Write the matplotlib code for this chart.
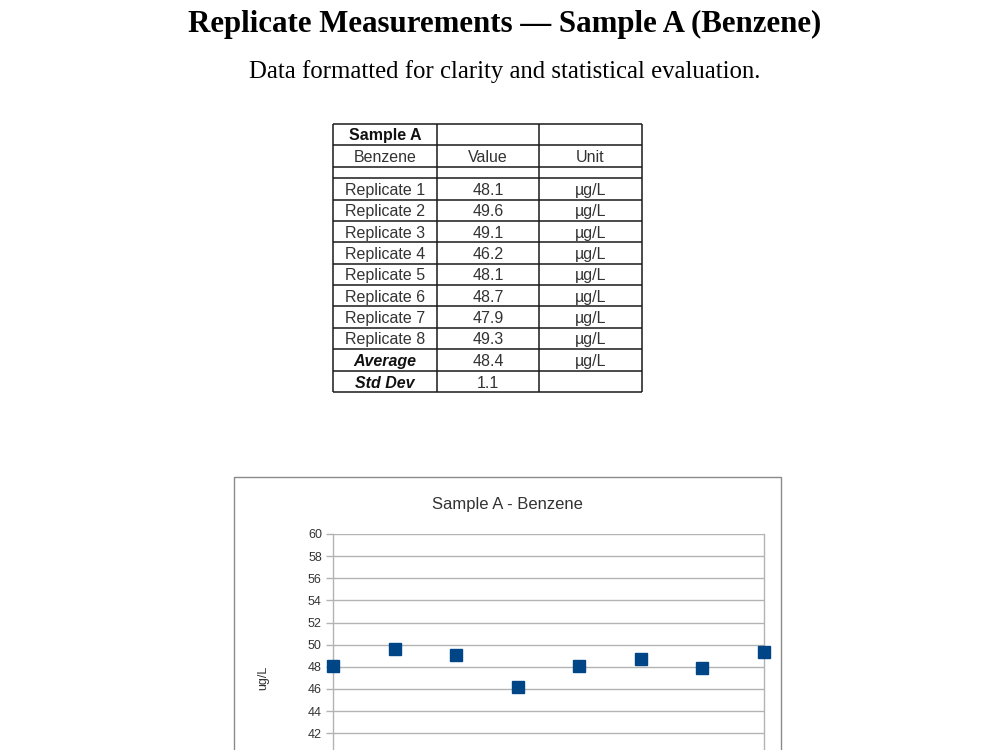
import matplotlib
matplotlib.use("Agg")
import matplotlib.pyplot as plt
from matplotlib.patches import Rectangle
import numpy as np

# ---------------- data ----------------
sample_name = "Sample A"
analyte = "Benzene"
replicate_labels = ["Replicate 1", "Replicate 2", "Replicate 3", "Replicate 4",
                    "Replicate 5", "Replicate 6", "Replicate 7", "Replicate 8"]
replicate_values = [48.1, 49.6, 49.1, 46.2, 48.1, 48.7, 47.9, 49.3]
unit = "\u00b5g/L"
average_value = 48.4
std_dev_value = 1.1
y_ticks = list(range(42, 61, 2))
y_min, y_max = 34, 60

page_title = "Replicate Measurements \u2014 Sample A (Benzene)"
page_subtitle = "Data formatted for clarity and statistical evaluation."
chart_title = "Sample A - Benzene"
y_label = "ug/L"

# ---------------- figure ----------------
fig = plt.figure(figsize=(10, 7.5), dpi=100)
fig.patch.set_facecolor("white")

page = fig.add_axes([0, 0, 1, 1])
page.set_xlim(0, 1000)
page.set_ylim(750, 0)
page.axis("off")

page.text(505, 24, page_title, ha="center", va="center",
          fontfamily="Liberation Serif", fontweight="bold", fontsize=22.2, color="black")
page.text(505, 72, page_subtitle, ha="center", va="center",
          fontfamily="Liberation Serif", fontsize=17.8, color="black")

# ---------------- table ----------------
col_edges = [333, 437, 539, 642]
row_edges = [124, 145, 167, 178, 200, 221, 242, 264, 285, 306, 328, 349, 371, 392]
line_kw = dict(color="#1a1a1a", lw=1.1, solid_capstyle="butt")
for x in col_edges:
    page.plot([x, x], [row_edges[0], row_edges[-1]], **line_kw)
for y in row_edges:
    page.plot([col_edges[0], col_edges[-1]], [y, y], **line_kw)

col_centers = [(col_edges[i] + col_edges[i + 1]) / 2 for i in range(3)]
tfont = dict(fontfamily="Liberation Sans", fontsize=11.5, color="#333333",
             ha="center", va="baseline")

def row_baseline(i):
    return round((row_edges[i] + row_edges[i + 1]) / 2) + 6

page.text(col_centers[0], row_baseline(0), sample_name, fontweight="bold",
          **{**tfont, "color": "#111111"})
page.text(col_centers[0], row_baseline(1), analyte, **tfont)
page.text(col_centers[1], row_baseline(1), "Value", **tfont)
page.text(col_centers[2], row_baseline(1), "Unit", **tfont)

for i, (lab, val) in enumerate(zip(replicate_labels, replicate_values)):
    r = row_baseline(3 + i)
    page.text(col_centers[0], r, lab, **tfont)
    page.text(col_centers[1], r, f"{val:.1f}", **tfont)
    page.text(col_centers[2], r, unit, **tfont)

r = row_baseline(3 + len(replicate_labels))
page.text(col_centers[0], r, "Average", fontweight="bold", fontstyle="italic",
          **{**tfont, "color": "#111111"})
page.text(col_centers[1], r, f"{average_value:.1f}", **tfont)
page.text(col_centers[2], r, unit, **tfont)
r = row_baseline(4 + len(replicate_labels))
page.text(col_centers[0], r, "Std Dev", fontweight="bold", fontstyle="italic",
          **{**tfont, "color": "#111111"})
page.text(col_centers[1], r, f"{std_dev_value:.1f}", **tfont)

# ---------------- chart frame ----------------
page.add_patch(Rectangle((234, 477), 547, 320, fill=False, edgecolor="#8a8a8a", lw=1.0))
page.text(507, 505, chart_title, ha="center", va="center",
          fontfamily="Liberation Sans", fontsize=12, color="#333333")

# ---------------- scatter chart ----------------
px_per_unit = 11.07
top_px = 534
bottom_px = top_px + (y_max - y_min) * px_per_unit
left_px, right_px = 333, 764
ax = fig.add_axes([left_px / 1000, 1 - bottom_px / 750,
                   (right_px - left_px) / 1000, (bottom_px - top_px) / 750])
ax.set_zorder(2)
ax.patch.set_alpha(0)

x = np.arange(1, len(replicate_values) + 1)
ax.plot(x, replicate_values, linestyle="none", marker="s", markersize=8.5,
        color="#004586", markeredgecolor="#004586", clip_on=False, zorder=3)
ax.set_xlim(1, len(replicate_values))
ax.set_ylim(y_min, y_max)
ax.set_yticks(y_ticks)
ax.set_xticks([])
ax.yaxis.grid(True, color="#b3b3b3", lw=1.0)
ax.set_axisbelow(True)
for s in ["top", "bottom"]:
    ax.spines[s].set_visible(False)
for s in ["left", "right"]:
    ax.spines[s].set_color("#b3b3b3")
    ax.spines[s].set_linewidth(1.0)
ax.tick_params(axis="y", direction="out", length=5, width=1.0, color="#b3b3b3",
               labelsize=9, labelcolor="#333333", pad=3)
for lbl in ax.get_yticklabels():
    lbl.set_fontfamily("Liberation Sans")
ax.set_ylabel(y_label, fontfamily="Liberation Sans", fontsize=9, color="#333333",
              labelpad=28)

fig.savefig("out.png", dpi=100)
